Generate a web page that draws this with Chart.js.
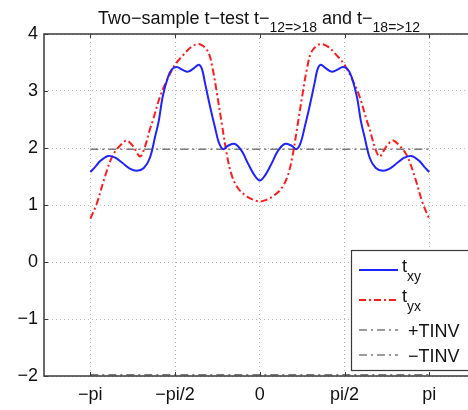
<!DOCTYPE html>
<html>
<head>
<meta charset="UTF-8">
<title>Two-sample t-test</title>
<script src="https://cdn.jsdelivr.net/npm/chart.js"></script>
<style>
  body { margin: 0; background: #fff; overflow: hidden; }
  #wrap { width: 468px; height: 410px; }
</style>
</head>
<body>
<div id="wrap"><canvas id="c" width="468" height="410"></canvas></div>
<script>
// x positions in radians
const txyX = [-3.14, -3.05, -2.96, -2.81, -2.68, -2.55, -2.41, -2.28, -2.15, -2.04, -1.94, -1.87, -1.80, -1.70, -1.63, -1.54, -1.43, -1.33, -1.22, -1.13, -1.07, -1.02, -0.92, -0.83, -0.76, -0.68, -0.59, -0.46, -0.33, -0.22, -0.09, 0,
              0.09, 0.22, 0.33, 0.46, 0.59, 0.68, 0.76, 0.83, 0.92, 1.02, 1.07, 1.13, 1.22, 1.33, 1.43, 1.54, 1.63, 1.70, 1.80, 1.87, 1.94, 2.04, 2.15, 2.28, 2.41, 2.55, 2.68, 2.81, 2.96, 3.05, 3.14];
const txyY = [1.58, 1.67, 1.77, 1.86, 1.83, 1.74, 1.64, 1.60, 1.65, 1.82, 2.20, 2.49, 2.90, 3.25, 3.38, 3.42, 3.37, 3.34, 3.40, 3.46, 3.38, 3.16, 2.72, 2.36, 2.10, 1.98, 2.04, 2.07, 1.94, 1.73, 1.51, 1.43,
              1.51, 1.73, 1.94, 2.07, 2.04, 1.98, 2.10, 2.36, 2.72, 3.16, 3.38, 3.46, 3.40, 3.34, 3.37, 3.42, 3.38, 3.25, 2.90, 2.49, 2.20, 1.82, 1.65, 1.60, 1.64, 1.74, 1.83, 1.86, 1.77, 1.67, 1.58];

const tyxX = [-3.14, -3.02, -2.87, -2.72, -2.55, -2.46, -2.34, -2.22, -2.13, -2.04, -1.98, -1.85, -1.72, -1.57, -1.42, -1.26, -1.11, -0.96, -0.87, -0.80, -0.70, -0.61, -0.52, -0.40, -0.24, -0.09, 0,
              0.09, 0.24, 0.40, 0.52, 0.61, 0.70, 0.80, 0.87, 0.96, 1.11, 1.26, 1.42, 1.57, 1.72, 1.85, 1.98, 2.04, 2.13, 2.22, 2.34, 2.46, 2.55, 2.72, 2.87, 3.02, 3.14];
const tyxY = [0.76, 1.03, 1.50, 1.88, 2.08, 2.13, 2.02, 1.85, 2.02, 2.32, 2.49, 2.90, 3.19, 3.46, 3.63, 3.78, 3.82, 3.69, 3.37, 2.99, 2.40, 1.88, 1.52, 1.29, 1.15, 1.08, 1.06,
              1.08, 1.15, 1.29, 1.52, 1.88, 2.40, 2.99, 3.37, 3.69, 3.82, 3.78, 3.63, 3.46, 3.19, 2.90, 2.49, 2.32, 2.02, 1.85, 2.02, 2.13, 2.08, 1.88, 1.50, 1.03, 0.76];

const tinvX = [-Math.PI, Math.PI];
const tinvPos = [1.98, 1.98];
const tinvNeg = [-1.98, -1.98];

const xTicks = [-Math.PI, -Math.PI / 2, 0, Math.PI / 2, Math.PI];
const xTickLabels = ['\u2212pi', '\u2212pi/2', '0', 'pi/2', 'pi'];
const yTicks = [-2, -1, 0, 1, 2, 3, 4];

const FONT = '"Liberation Sans", Arial, Helvetica, sans-serif';
const AXIS = '#3a3a3a';

function pts(xs, ys) { return xs.map((x, i) => ({ x: x, y: ys[i] })); }

// title with subscripts
const titlePlugin = {
  id: 'mtitle',
  afterDraw(chart) {
    const ctx = chart.ctx;
    const parts = [
      { t: 'Two\u2212sample t\u2212test t\u2212', sub: false },
      { t: '12=>18', sub: true },
      { t: ' and t\u2212', sub: false },
      { t: '18=>12', sub: true }
    ];
    ctx.save();
    ctx.fillStyle = '#111';
    ctx.textBaseline = 'alphabetic';
    let w = 0;
    parts.forEach(p => {
      ctx.font = (p.sub ? '14px ' : '18px ') + FONT;
      p.w = ctx.measureText(p.t).width;
      w += p.w;
    });
    let x = 259 - w / 2;
    parts.forEach(p => {
      ctx.font = (p.sub ? '14px ' : '18px ') + FONT;
      ctx.fillText(p.t, x, p.sub ? 32 : 24);
      x += p.w;
    });
    ctx.restore();
  }
};

// MATLAB style box, inward ticks and legend
const boxPlugin = {
  id: 'mbox',
  afterDatasetsDraw(chart) {
    const ctx = chart.ctx;
    const a = chart.chartArea;
    const xs = chart.scales.x, ys = chart.scales.y;
    ctx.save();
    ctx.strokeStyle = AXIS;
    ctx.lineWidth = 1.5;
    ctx.beginPath();
    ctx.moveTo(a.right + 2, a.top);
    ctx.lineTo(a.left, a.top);
    ctx.lineTo(a.left, a.bottom);
    ctx.lineTo(a.right + 2, a.bottom);
    ctx.stroke();
    ctx.lineWidth = 1;
    ctx.beginPath();
    xTicks.forEach(v => {
      const px = Math.round(xs.getPixelForValue(v)) + 0.5;
      ctx.moveTo(px, a.bottom); ctx.lineTo(px, a.bottom - 4);
      ctx.moveTo(px, a.top); ctx.lineTo(px, a.top + 4);
    });
    yTicks.forEach(v => {
      const py = Math.round(ys.getPixelForValue(v)) + 0.5;
      ctx.moveTo(a.left, py); ctx.lineTo(a.left + 4, py);
    });
    ctx.stroke();

    // legend
    const lx = 351, ly = 250, lw = 130, lh = 120;
    ctx.fillStyle = '#fff';
    ctx.fillRect(lx, ly, lw, lh);
    ctx.strokeStyle = AXIS;
    ctx.lineWidth = 1.2;
    ctx.strokeRect(lx + 0.5, ly + 0.5, lw, lh);
    const ds = chart.data.datasets;
    const rows = [
      { y: 270, main: 't', sub: 'xy' },
      { y: 300, main: 't', sub: 'yx' },
      { y: 330, main: '+TINV', sub: null },
      { y: 355, main: '\u2212TINV', sub: null }
    ];
    rows.forEach((r, i) => {
      const d = ds[i];
      ctx.strokeStyle = d.borderColor;
      ctx.lineWidth = d.borderWidth;
      ctx.setLineDash(d.borderDash || []);
      ctx.beginPath();
      ctx.moveTo(359, r.y); ctx.lineTo(398, r.y);
      ctx.stroke();
      ctx.setLineDash([]);
      ctx.fillStyle = '#111';
      ctx.textBaseline = 'alphabetic';
      if (r.sub) {
        ctx.font = '18px ' + FONT;
        ctx.fillText(r.main, 402, r.y + 2);
        const w = ctx.measureText(r.main).width;
        ctx.font = '14px ' + FONT;
        ctx.fillText(r.sub, 402 + w, r.y + 11);
      } else {
        ctx.font = '18px ' + FONT;
        ctx.fillText(r.main, 408, r.y + 7);
      }
    });
    ctx.restore();
  }
};

new Chart(document.getElementById('c'), {
  type: 'line',
  data: {
    datasets: [
      { label: 't_xy', data: pts(txyX, txyY), borderColor: '#1f24ff', borderWidth: 2, pointRadius: 0, tension: 0.35, fill: false },
      { label: 't_yx', data: pts(tyxX, tyxY), borderColor: '#ff1c1c', borderWidth: 2, borderDash: [7, 3, 2, 3], pointRadius: 0, tension: 0.35, fill: false },
      { label: '+TINV', data: pts(tinvX, tinvPos), borderColor: '#7a7a7a', borderWidth: 1.5, borderDash: [8, 4, 2, 4], pointRadius: 0, fill: false },
      { label: '\u2212TINV', data: pts(tinvX, tinvNeg), borderColor: '#7a7a7a', borderWidth: 1.5, borderDash: [8, 4, 2, 4], pointRadius: 0, fill: false }
    ]
  },
  options: {
    responsive: false,
    animation: false,
    layout: { padding: { top: 34, left: 0, right: 0, bottom: 0 } },
    plugins: { legend: { display: false }, title: { display: false }, tooltip: { enabled: false } },
    scales: {
      x: {
        type: 'linear', min: -4.0, max: 3.859,
        afterBuildTicks: s => { s.ticks = xTicks.map(v => ({ value: v })); },
        afterFit: s => { s.height = 34; },
        ticks: { callback: (v, i) => xTickLabels[i], color: '#111', font: { family: FONT, size: 18 }, padding: 8, maxRotation: 0, autoSkip: false },
        grid: { color: '#b8b8b8', lineWidth: 1, drawTicks: false },
        border: { display: false, dash: [1, 3] }
      },
      y: {
        type: 'linear', min: -2, max: 4,
        afterBuildTicks: s => { s.ticks = yTicks.map(v => ({ value: v })); },
        afterFit: s => { s.width = 44; },
        ticks: { callback: v => (v < 0 ? '\u2212' + Math.abs(v) : '' + v), color: '#111', font: { family: FONT, size: 18 }, padding: 6 },
        grid: { color: '#b8b8b8', lineWidth: 1, drawTicks: false },
        border: { display: false, dash: [1, 3] }
      }
    }
  },
  plugins: [titlePlugin, boxPlugin]
});
</script>
</body>
</html>
